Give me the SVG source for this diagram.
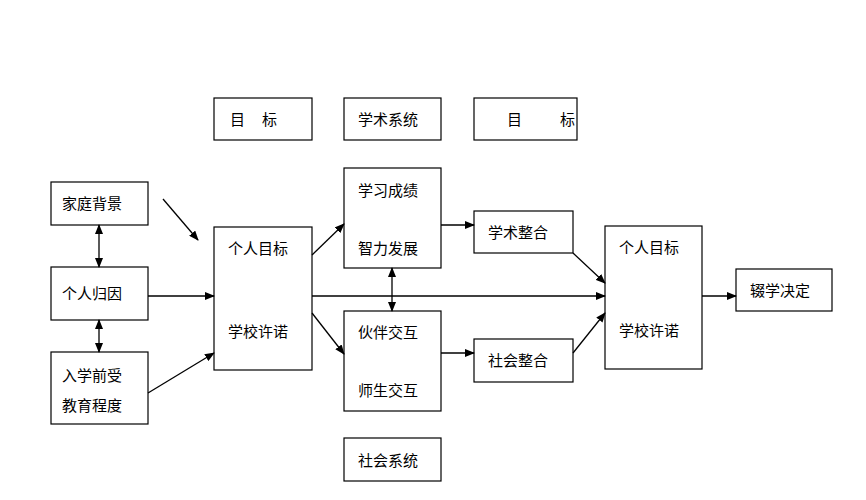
<svg xmlns="http://www.w3.org/2000/svg" width="866" height="500" viewBox="0 0 866 500">
<defs>
<style>
.b{fill:#fff;stroke:#000;stroke-width:1.2}
.t{font-family:"Liberation Serif","Noto Sans CJK SC",serif;font-size:15px;fill:#000}
.c line{stroke:#000;stroke-width:1.3}
</style>
<marker id="a" markerWidth="10" markerHeight="8" refX="9" refY="4" orient="auto-start-reverse" markerUnits="userSpaceOnUse"><path d="M0,0L10,4L0,8z" fill="#000"/></marker>
</defs>
<rect width="866" height="500" fill="#fff"/>
<g id="goal1"><rect class="b" x="214" y="98" width="98" height="42"/><text class="t" x="230" y="125">目</text><text class="t" x="262" y="125">标</text></g>
<g id="academic"><rect class="b" x="344" y="98" width="97" height="42"/><text class="t" x="358" y="125">学术系统</text></g>
<g id="goal2"><rect class="b" x="474" y="98" width="103" height="42"/><text class="t" x="507" y="125">目</text><text class="t" x="560" y="125">标</text></g>
<g id="family"><rect class="b" x="51" y="182" width="97" height="43"/><text class="t" x="62" y="209">家庭背景</text></g>
<g id="attr"><rect class="b" x="51" y="267" width="97" height="53"/><text class="t" x="62" y="299">个人归因</text></g>
<g id="edu"><rect class="b" x="51" y="352" width="97" height="72"/><text class="t" x="62" y="381">入学前受</text><text class="t" x="62" y="411">教育程度</text></g>
<g id="left"><rect class="b" x="214" y="227" width="98" height="143"/><text class="t" x="228" y="254">个人目标</text><text class="t" x="228" y="337">学校许诺</text></g>
<g id="study"><rect class="b" x="344" y="168" width="97" height="100"/><text class="t" x="358" y="196">学习成绩</text><text class="t" x="358" y="254">智力发展</text></g>
<g id="peer"><rect class="b" x="344" y="311" width="97" height="100"/><text class="t" x="358" y="338">伙伴交互</text><text class="t" x="358" y="396">师生交互</text></g>
<g id="acint"><rect class="b" x="474" y="211" width="99" height="42"/><text class="t" x="488" y="238">学术整合</text></g>
<g id="soint"><rect class="b" x="474" y="339" width="99" height="43"/><text class="t" x="488" y="366">社会整合</text></g>
<g id="right"><rect class="b" x="605" y="226" width="97" height="143"/><text class="t" x="619" y="253">个人目标</text><text class="t" x="619" y="336">学校许诺</text></g>
<g id="drop"><rect class="b" x="736" y="269" width="96" height="42"/><text class="t" x="750" y="296">辍学决定</text></g>
<g id="social"><rect class="b" x="344" y="438" width="97" height="43"/><text class="t" x="358" y="466">社会系统</text></g>
<g class="c">
<line x1="163" y1="199" x2="198" y2="240" marker-end="url(#a)"/>
<line x1="148" y1="296" x2="214" y2="296" marker-end="url(#a)"/>
<line x1="148" y1="393" x2="214" y2="353" marker-end="url(#a)"/>
<line x1="99" y1="225" x2="99" y2="267" marker-start="url(#a)" marker-end="url(#a)"/>
<line x1="99" y1="320" x2="99" y2="352" marker-start="url(#a)" marker-end="url(#a)"/>
<line x1="312" y1="255" x2="344" y2="224" marker-end="url(#a)"/>
<line x1="312" y1="313" x2="344" y2="354" marker-end="url(#a)"/>
<line x1="312" y1="296" x2="605" y2="296" marker-end="url(#a)"/>
<line x1="392" y1="268" x2="392" y2="311" marker-start="url(#a)" marker-end="url(#a)"/>
<line x1="441" y1="225" x2="474" y2="225" marker-end="url(#a)"/>
<line x1="441" y1="353" x2="474" y2="353" marker-end="url(#a)"/>
<line x1="573" y1="253" x2="605" y2="283" marker-end="url(#a)"/>
<line x1="573" y1="353" x2="605" y2="313" marker-end="url(#a)"/>
<line x1="702" y1="296" x2="736" y2="296" marker-end="url(#a)"/>
</g>
</svg>
